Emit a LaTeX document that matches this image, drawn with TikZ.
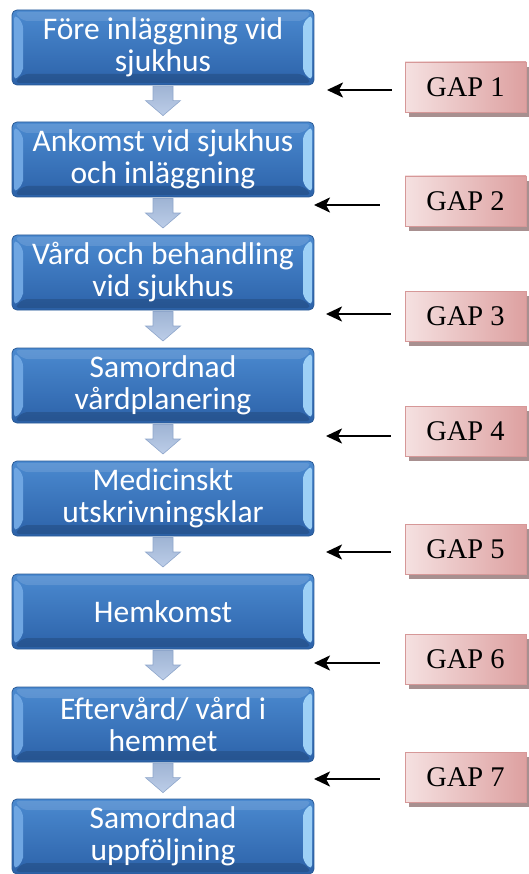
\documentclass[tikz,border=0pt]{standalone}
\usepackage{fontspec}
\newfontfamily\boxfont{Carlito}
\newfontfamily\gapfont{Liberation Serif}
\usetikzlibrary{arrows.meta,shadows,calc}
\definecolor{bluetop}{HTML}{4B8AD0}
\definecolor{bluebot}{HTML}{2C62A9}
\definecolor{blueedge}{HTML}{2A5A96}
\definecolor{bevelL}{HTML}{6FA6E2}
\definecolor{bevelR}{HTML}{9DD0F6}
\definecolor{arrtop}{HTML}{9FB4D4}
\definecolor{arrfill}{HTML}{BCCDE8}
\definecolor{arredge}{HTML}{8EA6CB}
\definecolor{pinkL}{HTML}{F5E1E1}
\definecolor{pinkR}{HTML}{DDA0A0}
\definecolor{pinkedge}{HTML}{D69898}
\definecolor{pinkshadow}{HTML}{A89090}
\tikzset{
  stagebox/.style={rectangle, rounded corners=5pt, minimum width=302pt, minimum height=75pt,
    top color=bluetop, bottom color=bluebot, draw=blueedge, line width=0.8pt,
    text=white, font=\boxfont\fontsize{31.5}{32}\selectfont, align=center, inner sep=0pt,
    path picture={
      \fill[bevelL] ($(path picture bounding box.north west)+(2pt,-4pt)$) -- ++(9pt,-9pt)
         |- ($(path picture bounding box.south west)+(11pt,13pt)$) -- ++(-9pt,-9pt) -- cycle;
      \fill[bevelR] ($(path picture bounding box.north east)+(-2pt,-4pt)$) -- ++(-9pt,-9pt)
         |- ($(path picture bounding box.south east)+(-11pt,13pt)$) -- ++(9pt,-9pt) -- cycle;
      \fill[white,opacity=0.12] ($(path picture bounding box.north west)+(2pt,-2pt)$) -- ($(path picture bounding box.north east)+(-2pt,-2pt)$)
         -- ++(-9pt,-9pt) -- ($(path picture bounding box.north west)+(11pt,-11pt)$) -- cycle;
      \fill[black,opacity=0.15] ($(path picture bounding box.south west)+(2pt,2pt)$) -- ($(path picture bounding box.south east)+(-2pt,2pt)$)
         -- ++(-9pt,9pt) -- ($(path picture bounding box.south west)+(11pt,11pt)$) -- cycle;
    }},
  flowarrow/.style={top color=arrtop, bottom color=arrfill, draw=arredge, line width=0.6pt, line join=miter},
  gapbox/.style={rectangle, minimum width=121pt, minimum height=50pt, inner sep=0pt,
    left color=pinkL, right color=pinkR, draw=pinkedge, line width=0.8pt,
    font=\gapfont\fontsize{28.5}{30}\selectfont,
    drop shadow={shadow xshift=4pt, shadow yshift=-5pt, fill=pinkshadow, opacity=1}},
  gaparrow/.style={line width=2.4pt, -{Stealth[length=16pt,width=15pt,inset=4pt]}}
}
\begin{document}
\begin{tikzpicture}[x=1pt,y=-1pt]
\useasboundingbox (0,0) rectangle (528,874);
% stages
\node[stagebox] (b1) at (163,47.5) {Före inläggning vid\\sjukhus};
\node[stagebox] (b2) at (163,159.5) {Ankomst vid sjukhus\\och inläggning};
\node[stagebox] (b3) at (163,272.5) {Vård och behandling\\vid sjukhus};
\node[stagebox] (b4) at (163,385.5) {Samordnad\\vårdplanering};
\node[stagebox] (b5) at (163,498.5) {Medicinskt\\utskrivningsklar};
\node[stagebox] (b6) at (163,611.5) {Hemkomst};
\node[stagebox] (b7) at (163,724.5) {Eftervård/ vård i\\hemmet};
\node[stagebox] (b8) at (163,836.5) {Samordnad\\uppföljning};
% flow arrows (block arrows between stages)
\foreach \i/\j in {1/2,2/3,3/4,4/5,5/6,6/7,7/8}{
  \coordinate (f\i) at ($(b\i.south)!0.42!(b\j.north)$);
  \path[flowarrow] ($(f\i)+(-10pt,14.5pt)$) -- ++(0,-14.5pt) -- ++(-7.5pt,0)
     -- ++(17.5pt,-15pt) -- ++(17.5pt,15pt) -- ++(-7.5pt,0) -- ++(0,14.5pt) -- cycle;
}
% gap boxes
\node[gapbox] (g1) at (465.5,87) {GAP 1};
\node[gapbox] (g2) at (465.5,201) {GAP 2};
\node[gapbox] (g3) at (465.5,316) {GAP 3};
\node[gapbox] (g4) at (465.5,431) {GAP 4};
\node[gapbox] (g5) at (465.5,549) {GAP 5};
\node[gapbox] (g6) at (465.5,659) {GAP 6};
\node[gapbox] (g7) at (465.5,777) {GAP 7};
% arrow tips
\coordinate (t1) at (327,90);
\coordinate (t2) at (314,205);
\coordinate (t3) at (326,314);
\coordinate (t4) at (326,436);
\coordinate (t5) at (326,552);
\coordinate (t6) at (314,663);
\coordinate (t7) at (314,779);
\draw[gaparrow, shorten <=13pt] (g1.west |- t1) -- (t1);
\draw[gaparrow, shorten <=25pt] (g2.west |- t2) -- (t2);
\draw[gaparrow, shorten <=14pt] (g3.west |- t3) -- (t3);
\draw[gaparrow, shorten <=14pt] (g4.west |- t4) -- (t4);
\draw[gaparrow, shorten <=14pt] (g5.west |- t5) -- (t5);
\draw[gaparrow, shorten <=25pt] (g6.west |- t6) -- (t6);
\draw[gaparrow, shorten <=25pt] (g7.west |- t7) -- (t7);
\end{tikzpicture}
\end{document}
